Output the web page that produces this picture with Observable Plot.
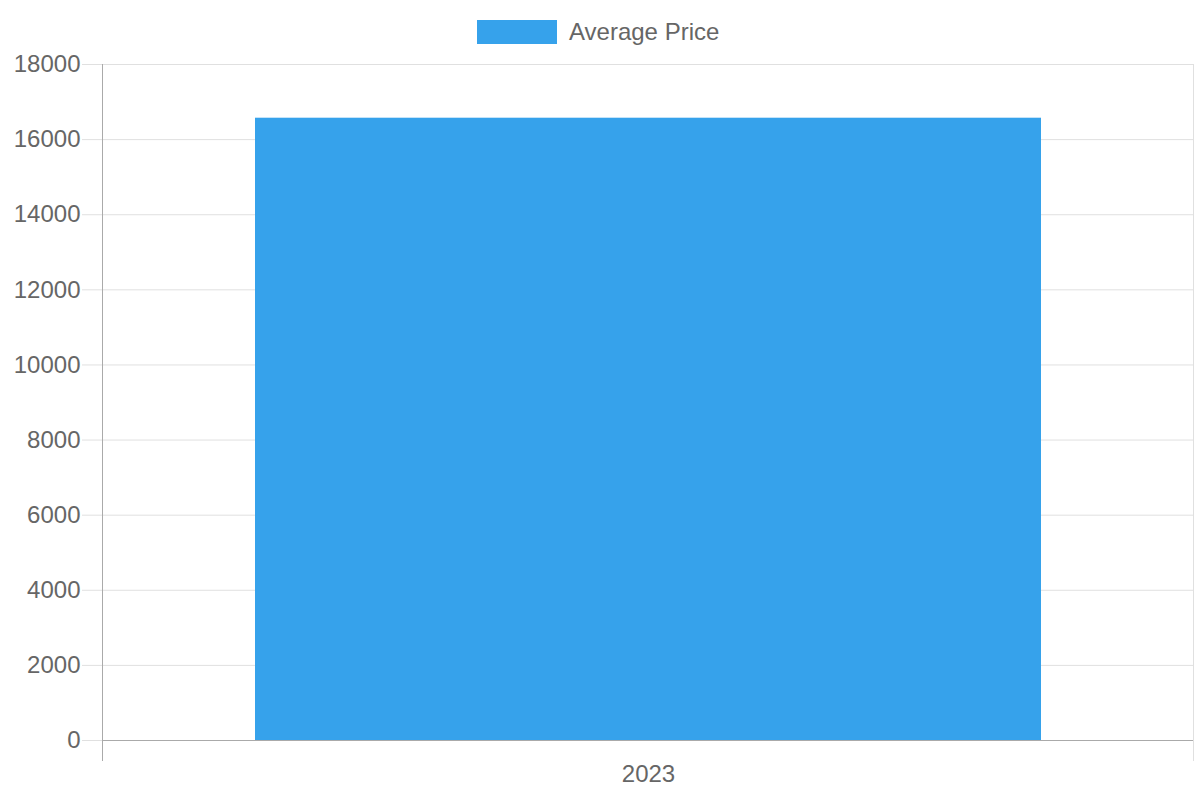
<!DOCTYPE html>
<html>
<head>
<meta charset="utf-8">
<script src="https://cdn.jsdelivr.net/npm/d3@7"></script>
<script src="https://cdn.jsdelivr.net/npm/@observablehq/plot@0.6"></script>
<style>
  html, body { margin: 0; padding: 0; background: white; }
  #wrap { position: relative; width: 1200px; height: 800px; font-family: "Liberation Sans", Arial, sans-serif; }
  #legend { position: absolute; top: 20px; left: 477px; height: 24px; display: flex; align-items: center; color: #666; font-size: 24px; }
  #legend .sw { width: 80px; height: 24px; background: #36a2eb; margin-right: 12px; }
  #chart { position: absolute; top: 0; left: 0; }
</style>
</head>
<body>
<div id="wrap">
  <div id="chart"></div>
  <div id="legend"><div class="sw"></div><span id="legendLabel"></span></div>
</div>
<script>
const years = ["2023"];
const prices = [16570];
const seriesName = "Average Price";
const yTicks = [0, 2000, 4000, 6000, 8000, 10000, 12000, 14000, 16000, 18000];

const data = years.map((y, i) => ({year: y, price: prices[i]}));
document.getElementById("legendLabel").textContent = seriesName;

const chart = Plot.plot({
  width: 1200,
  height: 800,
  marginTop: 64,
  marginBottom: 60,
  marginLeft: 102,
  marginRight: 7,
  style: {fontFamily: "'Liberation Sans', Arial, sans-serif", fontSize: "24px", color: "#666", background: "white"},
  x: {domain: years, paddingInner: 0.28, paddingOuter: 0, label: null},
  y: {domain: [0, 18000], label: null},
  marks: [
    Plot.gridY(yTicks, {stroke: "#e0e0e0", strokeOpacity: 1}),
    Plot.frame({anchor: "right", stroke: "#e0e0e0", strokeOpacity: 1, insetBottom: -20}),
    Plot.barY(data, {x: "year", y: "price", fill: "#36a2eb"}),
    Plot.axisY(yTicks, {tickSize: 20, tickPadding: 2, tickFormat: d => String(d), stroke: "#e0e0e0", strokeOpacity: 1, fill: "#666", fontSize: 24}),
    Plot.axisX({tickSize: 0, tickPadding: 24, fill: "#666", fontSize: 24}),
    Plot.ruleY([0], {stroke: "#aaa"}),
    Plot.frame({anchor: "left", stroke: "#aaa", strokeOpacity: 1, insetBottom: -20})
  ]
});
document.getElementById("chart").appendChild(chart);
</script>
</body>
</html>
